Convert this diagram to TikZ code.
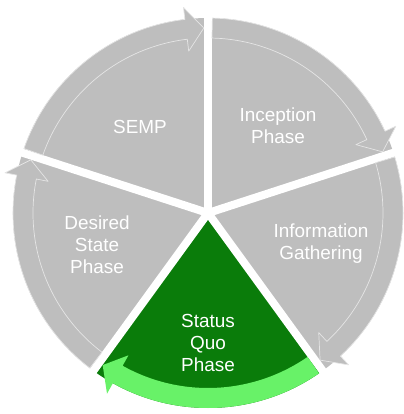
\documentclass[tikz,border=0pt]{standalone}
\usepackage{fontspec}
\setmainfont{Liberation Sans}
\definecolor{phasegray}{RGB}{190,190,190}
\definecolor{quodark}{RGB}{10,124,10}
\definecolor{quolight}{RGB}{104,242,104}
\begin{document}
\begin{tikzpicture}[x=1bp,y=1bp]
    \tikzstyle{every node}+=[inner sep=0pt, text=white, align=center, font=\fontsize{19}{22}\selectfont]
    \tikzstyle{phasearrow}=[draw=white!80!gray, line width=0.7bp, line join=round]
    \useasboundingbox (-208,-201) rectangle (196,213);
    % sectors
    \fill [phasegray] (0,0) -- (90:195) arc (90:162:195) -- cycle;
    \fill [phasegray] (0,0) -- (18:195) arc (18:90:195) -- cycle;
    \fill [phasegray] (0,0) -- (-54:195) arc (-54:18:195) -- cycle;
    \fill [quodark] (0,0) -- (-126:195) arc (-126:-54:195) -- cycle;
    \fill [phasegray] (0,0) -- (162:195) arc (162:234:195) -- cycle;
    % gaps
    \draw [white, line width=8bp] (0,0) -- (90:215);
    \draw [white, line width=8bp] (0,0) -- (18:215);
    \draw [white, line width=8bp] (0,0) -- (-54:215);
    \draw [white, line width=8bp] (0,0) -- (-126:215);
    \draw [white, line width=8bp] (0,0) -- (162:215);
    % arrows
    \filldraw [phasearrow, fill=phasegray] (160.7:195) arc (160.7:96.8:195) -- (96.8:207) -- (91.3:185) -- (96.8:163) -- (96.8:175) arc (96.8:160.7:175) -- cycle;
    \filldraw [phasearrow, fill=phasegray] (88.7:195) arc (88.7:24.8:195) -- (24.8:207) -- (19.3:185) -- (24.8:163) -- (24.8:175) arc (24.8:88.7:175) -- cycle;
    \filldraw [phasearrow, fill=phasegray] (16.7:195) arc (16.7:-47.2:195) -- (-47.2:207) -- (-52.7:185) -- (-47.2:163) -- (-47.2:175) arc (-47.2:16.7:175) -- cycle;
    \fill [quolight] (-55.3:195) arc (-55.3:-119.2:195) -- (-119.2:207) -- (-124.7:185) -- (-119.2:163) -- (-119.2:175) arc (-119.2:-55.3:175) -- cycle;
    \filldraw [phasearrow, fill=phasegray] (232.7:195) arc (232.7:168.8:195) -- (168.8:207) -- (163.3:185) -- (168.8:163) -- (168.8:175) arc (168.8:232.7:175) -- cycle;
    % labels
    \node (semp) at (-68,86) {SEMP};
    \node (inception) at (70,87) {Inception\\Phase};
    \node (info) at (113,-31) {Information\\Gathering};
    \node (statusquo) at (0,-130) {Status\\Quo\\Phase};
    \node (desired) at (-111,-32) {Desired\\State\\Phase};
\end{tikzpicture}
\end{document}
